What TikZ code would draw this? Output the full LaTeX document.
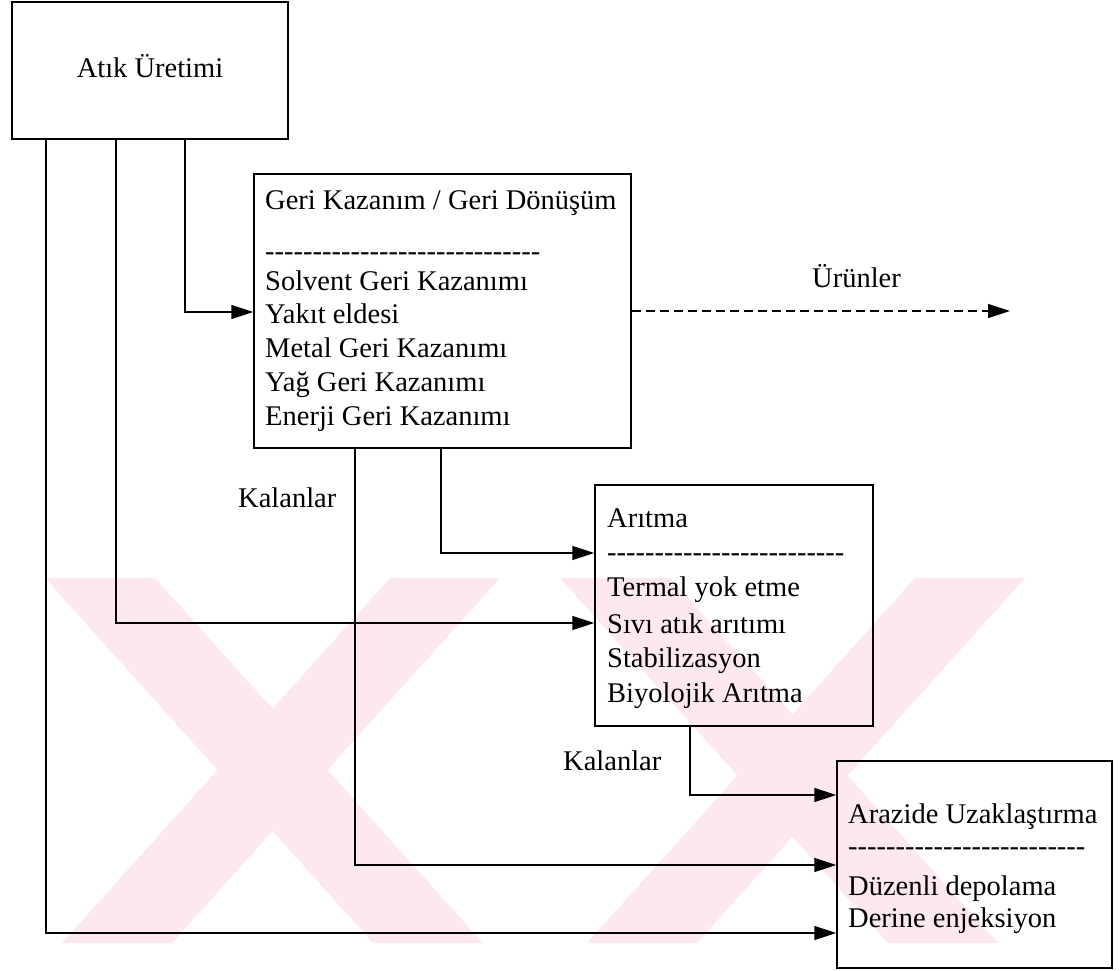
\documentclass[tikz,border=0pt]{standalone}
\usepackage{fontspec}
\setmainfont{Liberation Serif}
\usetikzlibrary{arrows.meta}
\definecolor{wmpink}{RGB}{253,233,237}
\newcommand\hyrow[1]{\foreach \k in {1,...,#1}{-}}
\begin{document}
\begin{tikzpicture}[x=1pt,y=-1pt,
  box/.style={draw, line width=1.5pt, inner sep=0pt},
  conn/.style={line width=1.5pt, -{Triangle[length=22pt,width=14pt]}},
  prod/.style={line width=1.3pt, dash pattern=on 9pt off 5pt, -{Triangle[length=22pt,width=14pt]}},
  txt/.style={font=\fontsize{28.5}{35}\selectfont, inner sep=0pt, anchor=base west},
  wm/.style={fill=wmpink, draw=none},
]
\useasboundingbox (0,0) rectangle (1120,971);

% faint background emblem: two crossed pairs of diagonal bands
\begin{scope}
  \clip (40,578) rectangle (1030,943);
  \fill[wm] (45,578) -- (155,578) -- (483,943) -- (373,943) -- cycle;
  \fill[wm] (390,578) -- (500,578) -- (172,943) -- (62,943) -- cycle;
  \fill[wm] (560,578) -- (670,578) -- (998,943) -- (888,943) -- cycle;
  \fill[wm] (915,578) -- (1025,578) -- (697,943) -- (587,943) -- cycle;
\end{scope}

% boxes
\node[box, minimum width=276pt, minimum height=137pt] (atik) at (150,70.5) {};
\node[box, minimum width=377pt, minimum height=274pt] (geri) at (442.5,311) {};
\node[box, minimum width=278pt, minimum height=241pt] (aritma) at (734,605.5) {};
\node[box, minimum width=275pt, minimum height=207pt] (arazide) at (974.5,864.5) {};

% box texts
\node[txt, anchor=base] (t0) at (150,78) {Atık Üretimi};

\node[txt] (g0) at (265,209) {Geri Kazanım / Geri Dönüşüm};
\node[txt] (g1) at (265,260) {\hyrow{29}};
\node[txt] (g2) at (265,290) {Solvent Geri Kazanımı};
\node[txt] (g3) at (265,323) {Yakıt eldesi};
\node[txt] (g4) at (265,357) {Metal Geri Kazanımı};
\node[txt] (g5) at (265,391) {Yağ Geri Kazanımı};
\node[txt] (g6) at (265,425) {Enerji Geri Kazanımı};

\node[txt] (a0) at (607,527) {Arıtma};
\node[txt] (a1) at (607,561) {\hyrow{25}};
\node[txt] (a2) at (607,596) {Termal yok etme};
\node[txt] (a3) at (607,633) {Sıvı atık arıtımı};
\node[txt] (a4) at (607,667) {Stabilizasyon};
\node[txt] (a5) at (607,702) {Biyolojik Arıtma};

\node[txt] (d0) at (848,823) {Arazide Uzaklaştırma};
\node[txt] (d1) at (848,855) {\hyrow{25}};
\node[txt] (d2) at (848,895) {Düzenli depolama};
\node[txt] (d3) at (848,927) {Derine enjeksiyon};

% free labels
\node[txt] (urunler) at (812,287) {Ürünler};
\node[txt] (kal1) at (238,507) {Kalanlar};
\node[txt] (kal2) at (563,770) {Kalanlar};

% connectors
\draw[conn] (atik.south -| 185,0) |- (geri.west |- 0,312);
\draw[conn] (atik.south -| 116,0) |- (aritma.west |- 0,623);
\draw[conn] (atik.south -| 46,0) |- (arazide.west |- 0,933);
\draw[conn] (geri.south -| 441,0) |- (aritma.west |- 0,553);
\draw[conn] (geri.south -| 355,0) |- (arazide.west |- 0,865);
\draw[conn] (aritma.south -| 690,0) |- (arazide.west |- 0,795);
\coordinate (urunend) at (1010,311);
\draw[prod] (geri.east |- urunend) -- (urunend);
\end{tikzpicture}
\end{document}
